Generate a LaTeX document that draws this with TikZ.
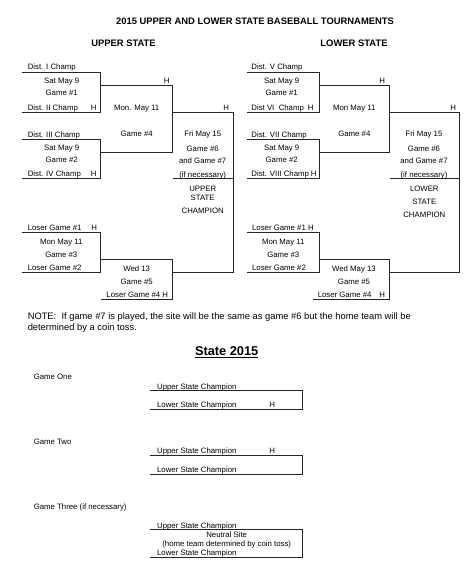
\documentclass[tikz,border=0pt]{standalone}
\usepackage{fontspec}
\setmainfont{Liberation Sans}
\begin{document}
\begin{tikzpicture}[x=1pt,y=-1pt,line width=0.9pt,draw=black!85,
  every node/.style={inner sep=0pt,font=\fontsize{7.8}{9}\selectfont},
  team/.style={anchor=base west},
  info/.style={anchor=base},
  head/.style={anchor=base,font=\fontsize{9.4}{11}\selectfont\bfseries}]
\useasboundingbox (0,0) rectangle (474,578);
% titles
\node[head] (title) at (255,24.7) {2015 UPPER AND LOWER STATE BASEBALL TOURNAMENTS};
\node[head] (upper) at (123.5,47) {UPPER STATE};
\node[head] (lower) at (354,47) {LOWER STATE};

% upper state brackets
\coordinate (u1t) at (22,72); \coordinate (u1m) at (100.5,92); \coordinate (u1b) at (22,112);
\coordinate (u2t) at (22,139); \coordinate (u2m) at (100.5,158); \coordinate (u2b) at (22,178.5);
\coordinate (u4t) at (100.5,85); \coordinate (u4m) at (172.5,118); \coordinate (u4b) at (100.5,152.3);
\coordinate (u6t) at (172.5,112.3); \coordinate (u6m) at (233.3,190); \coordinate (u6b) at (172.5,272);
\coordinate (u6c) at (172.5,178.7);
\coordinate (u3t) at (22,232); \coordinate (u3m) at (100.5,252); \coordinate (u3b) at (22,272);
\coordinate (u5t) at (100.5,259); \coordinate (u5m) at (172.5,279); \coordinate (u5b) at (100.5,299.3);
\draw (u1t) -| (u1m) |- (u1b);
\draw (u2t) -| (u2m) |- (u2b);
\draw (u4t) -| (u4m) |- (u4b);
\draw (u6t) -| (u6m) |- (u6b);
\draw (u6c) -- (u6c -| u6m);
\draw (u3t) -| (u3m) |- (u3b);
\draw (u5t) -| (u5m) |- (u5b);

\node[team] (ud1) at (27.3,70) {Dist. I Champ};
\node[info] (ug1a) at (61.7,83.5) {Sat May 9};
\node[info] (ug1b) at (61.7,95.1) {Game \#1};
\node[team] (ud2) at (27.3,110) {Dist. II Champ};
\node[team] (uh1) at (90.5,110) {H};
\node[team] (ud3) at (27.3,137) {Dist. III Champ};
\node[info] (ug2a) at (61.7,150.1) {Sat May 9};
\node[info] (ug2b) at (61.7,162.1) {Game \#2};
\node[team] (ud4) at (27.3,176.5) {Dist. IV Champ};
\node[team] (uh2) at (90.5,176.5) {H};
\node[team] (uh4) at (163.5,83) {H};
\node[info] (ug4a) at (136.7,110.5) {Mon. May 11};
\node[info] (ug4b) at (136.7,136.1) {Game \#4};
\node[team] (uh6) at (223,110.3) {H};
\node[info] (ug6a) at (202.7,136.1) {Fri May 15};
\node[info] (ug6b) at (202.7,151.8) {Game \#6};
\node[info] (ug6c) at (202.7,163.5) {and Game \#7};
\node[info] (ug6d) at (202.7,177.1) {(if necessary)};
\node[info] (uc1) at (202.7,191.1) {UPPER};
\node[info] (uc2) at (202.7,200.1) {STATE};
\node[info] (uc3) at (202.7,213.8) {CHAMPION};
\node[team] (ul1) at (27.3,230) {Loser Game \#1};
\node[team] (uh3) at (91,230) {H};
\node[info] (ug3a) at (61.3,244.5) {Mon May 11};
\node[info] (ug3b) at (61.3,257) {Game \#3};
\node[team] (ul2) at (27.3,270) {Loser Game \#2};
\node[info] (ug5a) at (136.7,271.1) {Wed 13};
\node[info] (ug5b) at (136.7,284.8) {Game \#5};
\node[team] (ul4) at (106,297.3) {Loser Game \#4 H};

% lower state brackets
\coordinate (l1t) at (246.7,72); \coordinate (l1m) at (319.5,92); \coordinate (l1b) at (246.7,112);
\coordinate (l2t) at (246.7,139); \coordinate (l2m) at (319.5,158); \coordinate (l2b) at (246.7,178.5);
\coordinate (l4t) at (319.5,85); \coordinate (l4m) at (389.3,118); \coordinate (l4b) at (319.5,152.3);
\coordinate (l6t) at (389.3,112.3); \coordinate (l6m) at (459.3,190); \coordinate (l6b) at (389.3,272);
\coordinate (l6c) at (390,178.7);
\coordinate (l3t) at (246.7,232); \coordinate (l3m) at (319.5,252); \coordinate (l3b) at (246.7,272);
\coordinate (l5t) at (319.5,259); \coordinate (l5m) at (389.3,279); \coordinate (l5b) at (312.7,299.3);
\draw (l1t) -| (l1m) |- (l1b);
\draw (l2t) -| (l2m) |- (l2b);
\draw (l4t) -| (l4m) |- (l4b);
\draw (l6t) -| (l6m) |- (l6b);
\draw (l6c) -- (l6c -| l6m);
\draw (l3t) -| (l3m) |- (l3b);
\draw (l5t) -| (l5m) |- (l5b);

\node[team] (ld5) at (251,70) {Dist. V Champ};
\node[info] (lg1a) at (281.7,83.5) {Sat May 9};
\node[info] (lg1b) at (281.7,95.1) {Game \#1};
\node[team] (ld6) at (251,110) {Dist VI\ \ Champ};
\node[team] (lh1) at (307.5,110) {H};
\node[team] (ld7) at (251,137) {Dist. VII Champ};
\node[info] (lg2a) at (281.7,150.1) {Sat May 9};
\node[info] (lg2b) at (281.7,162.1) {Game \#2};
\node[team] (ld8) at (251,176.5) {Dist. VIII Champ};
\node[team] (lh2) at (310.5,176.5) {H};
\node[team] (lh4) at (379,83) {H};
\node[info] (lg4a) at (354.3,110.5) {Mon May 11};
\node[info] (lg4b) at (354.3,136.1) {Game \#4};
\node[team] (lh6) at (450,110.3) {H};
\node[info] (lg6a) at (424,136.1) {Fri May 15};
\node[info] (lg6b) at (424,151.8) {Game \#6};
\node[info] (lg6c) at (424,163.5) {and Game \#7};
\node[info] (lg6d) at (424,177.1) {(if necessary)};
\node[info] (lc1) at (424.3,191.8) {LOWER};
\node[info] (lc2) at (424.3,204.5) {STATE};
\node[info] (lc3) at (424.3,217.8) {CHAMPION};
\node[team] (ll1) at (251.7,230) {Loser Game \#1 H};
\node[info] (lg3a) at (283.3,244.5) {Mon May 11};
\node[info] (lg3b) at (283.3,257) {Game \#3};
\node[team] (ll2) at (251.7,270) {Loser Game \#2};
\node[info] (lg5a) at (354,271.5) {Wed May 13};
\node[info] (lg5b) at (354,284.8) {Game \#5};
\node[team] (ll4) at (317.3,297.3) {Loser Game \#4};
\node[team] (lh5) at (379,297.3) {H};

% note
\node[team,font=\fontsize{9.35}{11}\selectfont] (note1) at (27.3,319) {NOTE:\ \ If game \#7 is played, the site will be the same as game \#6 but the home team will be};
\node[team,font=\fontsize{9.35}{11}\selectfont] (note2) at (27.3,330) {determined by a coin toss.};

% state final
\node[info,font=\fontsize{12.8}{15}\selectfont\bfseries] (state) at (226.7,355.7) {\underline{State 2015}};
\coordinate (s1t) at (150,390.7); \coordinate (s1m) at (302.7,400); \coordinate (s1b) at (150,409);
\coordinate (s2t) at (150,455); \coordinate (s2m) at (302.7,465); \coordinate (s2b) at (150,474);
\coordinate (s3t) at (150,529.7); \coordinate (s3m) at (302.7,544); \coordinate (s3b) at (150,557.7);
\draw (s1t) -| (s1m) |- (s1b);
\draw (s2t) -| (s2m) |- (s2b);
\draw (s3t) -| (s3m) |- (s3b);

\node[team] (gone) at (33.3,379.8) {Game One};
\node[team] (s1u) at (156.7,389.5) {Upper State Champion};
\node[team] (s1l) at (156.7,407.5) {Lower State Champion};
\node[team] (s1h) at (269,407.5) {H};
\node[team] (gtwo) at (33.3,444.5) {Game Two};
\node[team] (s2u) at (156.7,453.5) {Upper State Champion};
\node[team] (s2h) at (269,453.5) {H};
\node[team] (s2l) at (156.7,472.5) {Lower State Champion};
\node[team] (gthree) at (33.3,509.8) {Game Three (if necessary)};
\node[team] (s3u) at (156.7,528.1) {Upper State Champion};
\node[info] (s3n) at (226.7,537.8) {Neutral Site};
\node[info] (s3c) at (226.7,546.5) {(home team determined by coin toss)};
\node[team] (s3l) at (156.7,555.8) {Lower State Champion};
\end{tikzpicture}
\end{document}
